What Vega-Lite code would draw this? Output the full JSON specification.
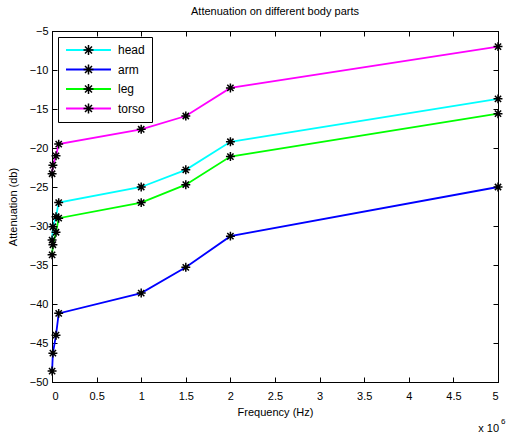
{
  "$schema": "https://vega.github.io/schema/vega-lite/v6.json",
  "width": 446,
  "height": 351,
  "autosize": {"type": "none"},
  "padding": {"left": 52, "top": 31, "right": 11, "bottom": 53},
  "background": "white",
  "title": {"text": "Attenuation on different body parts", "font": "Liberation Sans", "fontSize": 11, "fontWeight": "normal", "color": "black", "offset": 8},
  "data": {"values": [
    {"part": "head", "freq": 1000, "att": -31.8},
    {"part": "head", "freq": 10000, "att": -30.1},
    {"part": "head", "freq": 45000, "att": -28.8},
    {"part": "head", "freq": 75000, "att": -27.0},
    {"part": "head", "freq": 1000000, "att": -25.0},
    {"part": "head", "freq": 1500000, "att": -22.8},
    {"part": "head", "freq": 2000000, "att": -19.2},
    {"part": "head", "freq": 5000000, "att": -13.7},
    {"part": "arm", "freq": 1000, "att": -48.6},
    {"part": "arm", "freq": 10000, "att": -46.3},
    {"part": "arm", "freq": 45000, "att": -44.0},
    {"part": "arm", "freq": 75000, "att": -41.2},
    {"part": "arm", "freq": 1000000, "att": -38.6},
    {"part": "arm", "freq": 1500000, "att": -35.3},
    {"part": "arm", "freq": 2000000, "att": -31.3},
    {"part": "arm", "freq": 5000000, "att": -25.0},
    {"part": "leg", "freq": 1000, "att": -33.7},
    {"part": "leg", "freq": 10000, "att": -32.4},
    {"part": "leg", "freq": 45000, "att": -30.8},
    {"part": "leg", "freq": 75000, "att": -29.0},
    {"part": "leg", "freq": 1000000, "att": -27.0},
    {"part": "leg", "freq": 1500000, "att": -24.7},
    {"part": "leg", "freq": 2000000, "att": -21.1},
    {"part": "leg", "freq": 5000000, "att": -15.6},
    {"part": "torso", "freq": 1000, "att": -23.3},
    {"part": "torso", "freq": 10000, "att": -22.2},
    {"part": "torso", "freq": 45000, "att": -21.0},
    {"part": "torso", "freq": 75000, "att": -19.5},
    {"part": "torso", "freq": 1000000, "att": -17.6},
    {"part": "torso", "freq": 1500000, "att": -15.9},
    {"part": "torso", "freq": 2000000, "att": -12.3},
    {"part": "torso", "freq": 5000000, "att": -7.0}
  ]},
  "resolve": {"axis": {"x": "independent", "y": "independent"}},
  "layer": [
    {
      "mark": {"type": "line", "strokeWidth": 1.8},
      "encoding": {
        "x": {"field": "freq", "type": "quantitative", "scale": {"domain": [0, 5000000], "nice": false, "zero": false},
              "axis": {"title": "Frequency (Hz)", "values": [0, 500000, 1000000, 1500000, 2000000, 2500000, 3000000, 3500000, 4000000, 4500000, 5000000],
                       "labelExpr": "datum.value / 1000000 + ''", "grid": false, "tickSize": -5, "labelPadding": 13, "titlePadding": 5}},
        "y": {"field": "att", "type": "quantitative", "scale": {"domain": [-50, -5], "nice": false, "zero": false},
              "axis": {"title": "Attenuation (db)", "values": [-50, -45, -40, -35, -30, -25, -20, -15, -10, -5], "grid": false, "tickSize": -5, "labelPadding": 9, "titlePadding": 11}},
        "color": {"field": "part", "type": "nominal", "sort": ["head", "arm", "leg", "torso"],
                  "scale": {"range": ["#00FFFF", "#0000FF", "#00FF00", "#FF00FF"]},
                  "legend": {"orient": "none", "legendX": 6, "legendY": 6, "title": null, "fillColor": "white", "strokeColor": "black", "padding": 7,
                             "symbolType": "stroke", "symbolSize": 2025, "symbolStrokeWidth": 2, "labelFont": "Liberation Sans", "labelFontSize": 12,
                             "labelColor": "black", "labelOffset": 6, "rowPadding": 7.5, "clipHeight": 12}}
      }
    },
    {
      "mark": {"type": "point", "filled": false, "stroke": "black", "strokeWidth": 1.5, "size": 80, "opacity": 1},
      "encoding": {
        "x": {"field": "freq", "type": "quantitative", "axis": null},
        "y": {"field": "att", "type": "quantitative", "axis": null},
        "shape": {"field": "part", "type": "nominal",
                  "scale": {"domain": ["head", "arm", "leg", "torso"], "range": ["M-1,0L1,0M0,-1L0,1M-0.7,-0.7L0.7,0.7M-0.7,0.7L0.7,-0.7"]},
                  "legend": {"orient": "none", "legendX": 23.5, "legendY": 6, "title": null, "padding": 7, "symbolSize": 100,
                             "symbolStrokeColor": "black", "symbolFillColor": "transparent", "symbolStrokeWidth": 1.5,
                             "labelExpr": "''", "labelFontSize": 12, "labelOffset": 0, "rowPadding": 7.5, "clipHeight": 12}}
      }
    },
    {
      "mark": {"type": "point", "opacity": 0},
      "encoding": {
        "x": {"field": "freq", "type": "quantitative",
              "axis": {"orient": "top", "title": null, "labels": false, "values": [0, 500000, 1000000, 1500000, 2000000, 2500000, 3000000, 3500000, 4000000, 4500000, 5000000], "grid": false, "tickSize": -5}},
        "y": {"field": "att", "type": "quantitative",
              "axis": {"orient": "right", "title": null, "labels": false, "values": [-50, -45, -40, -35, -30, -25, -20, -15, -10, -5], "grid": false, "tickSize": -5}}
      }
    },
    {
      "data": {"values": [{"note": "x 10"}]},
      "mark": {"type": "text", "align": "right", "baseline": "middle", "dx": 1, "dy": 47, "font": "Liberation Sans", "fontSize": 11, "color": "black"},
      "encoding": {
        "text": {"field": "note"},
        "x": {"datum": 5000000, "type": "quantitative", "axis": null},
        "y": {"datum": -50, "type": "quantitative", "axis": null}
      }
    },
    {
      "data": {"values": [{"note": "6"}]},
      "mark": {"type": "text", "align": "left", "baseline": "middle", "dx": 3, "dy": 40, "font": "Liberation Sans", "fontSize": 8, "color": "black"},
      "encoding": {
        "text": {"field": "note"},
        "x": {"datum": 5000000, "type": "quantitative", "axis": null},
        "y": {"datum": -50, "type": "quantitative", "axis": null}
      }
    }
  ],
  "config": {
    "view": {"stroke": "black", "strokeWidth": 1},
    "axis": {"domainColor": "black", "tickColor": "black", "labelColor": "black", "titleColor": "black",
             "labelFont": "Liberation Sans", "labelFontSize": 11, "titleFont": "Liberation Sans", "titleFontSize": 11, "titleFontWeight": "normal"}
  }
}
